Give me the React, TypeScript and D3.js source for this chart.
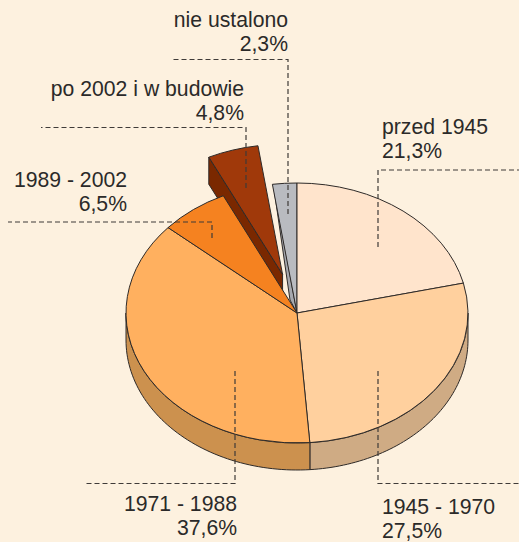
import React from "react";
import * as d3 from "d3";

const categories = ["przed 1945", "1945 - 1970", "1971 - 1988", "1989 - 2002", "po 2002 i w budowie", "nie ustalono"];
const shares = [21.3, 27.5, 37.6, 6.5, 4.8, 2.3];
const shareLabels = ["21,3%", "27,5%", "37,6%", "6,5%", "4,8%", "2,3%"];
const topColors = ["#FFE4CC", "#FFD09E", "#FFB05F", "#F58220", "#A0390A", "#B9BBC0"];
const sideColors = ["#CDB69F", "#CFAB84", "#CC914E", "#C4681A", "#7A2800", "#A6A8AE"];
const explode = [0, 0, 0, 0, 0.31, 0];

const W = 519, H = 542;
const BG = "#FDF1DF", INK = "#2B2A29", EDGE = "#2E2A28", DASH = "#3F3B38";
const cx = 297, cy = 313, rx = 171, ry = 130, depth = 27;

const labelLayout = [
  { x: 382, y: 134, anchor: "start", leader: [[378, 247], [378, 170], [519, 170]] },
  { x: 382, y: 514, anchor: "start", leader: [[378, 371], [378, 483.5], [519, 483.5]] },
  { x: 237, y: 511, anchor: "end", leader: [[235, 371], [235, 483.5], [86, 483.5]] },
  { x: 127, y: 187, anchor: "end", leader: [[212, 238], [212, 222], [8, 222]] },
  { x: 244, y: 96, anchor: "end", leader: [[246, 188], [246, 127.5], [41, 127.5]] },
  { x: 288, y: 27, anchor: "end", leader: [[288, 214], [288, 59.5], [172, 59.5]] },
];

const arcs = d3.pie<number>().sort(null).value((d) => d)(shares);
const px = (a: number) => cx + rx * Math.sin(a);
const py = (a: number) => cy - ry * Math.cos(a);
const unitArc = d3.arc<d3.PieArcDatum<number>>().innerRadius(0).outerRadius(1);
const line = d3.line();

function offset(i: number): [number, number] {
  const mid = (arcs[i].startAngle + arcs[i].endAngle) / 2;
  return [rx * explode[i] * Math.sin(mid) + 1, -ry * explode[i] * Math.cos(mid)];
}

// Curved outer wall of one slice, limited to the front half of the ellipse.
function frontWall(i: number) {
  const a0 = Math.max(arcs[i].startAngle, Math.PI / 2);
  const a1 = Math.min(arcs[i].endAngle, (3 * Math.PI) / 2);
  if (a1 <= a0) return null;
  const steps = d3.range(0, 61).map((k) => a0 + ((a1 - a0) * k) / 60);
  const top = steps.map((a) => [px(a), py(a)] as [number, number]);
  const bottom = steps.map((a) => [px(a), py(a) + depth] as [number, number]).reverse();
  return line([...top, ...bottom]) + "Z";
}

export default function App() {
  const font = { fontFamily: "'Liberation Sans', Arial, sans-serif", fontSize: 21.2 };
  const brown = 4, gray = 5;
  const [bx, by] = offset(brown);
  const bs = arcs[brown].startAngle;
  const grayCorner: [number, number] = [px(arcs[gray].startAngle) + 1, py(arcs[gray].startAngle)];

  const sliceEl = (i: number, dx = 0, dy = 0) => (
    <path
      key={i}
      d={unitArc(arcs[i]) ?? ""}
      transform={`translate(${cx + dx},${cy + dy}) scale(${rx},${ry})`}
      fill={topColors[i]}
      stroke={EDGE}
      strokeWidth={1}
      strokeLinejoin="round"
      style={{ vectorEffect: "non-scaling-stroke" }}
    />
  );

  return (
    <svg width={W} height={H} viewBox={`0 0 ${W} ${H}`} style={{ position: "absolute", left: 0, top: 0 }}>
      <rect width={W} height={H} fill={BG} />

      {/* outer walls */}
      {shares.map((_, i) => {
        const d = frontWall(i);
        return d ? <path key={i} d={d} fill={sideColors[i]} stroke={EDGE} strokeWidth={1} /> : null;
      })}

      {/* exploded slice: inner cut face */}
      <path
        d={
          line([
            [px(bs) + bx, py(bs) + by],
            [px(bs) + bx, py(bs) + by + depth],
            [cx + bx, cy + by + depth],
            [cx + bx, cy + by],
          ]) + "Z"
        }
        fill={sideColors[brown]}
        stroke={EDGE}
        strokeWidth={1}
      />
      {sliceEl(brown, bx, by)}

      {/* grey slice cut face */}
      <path
        d={line([grayCorner, [290, 300], [cx, cy]]) + "Z"}
        fill={sideColors[gray]}
        stroke={EDGE}
        strokeWidth={1}
      />

      {[gray, 0, 1, 2, 3].map((i) => sliceEl(i))}

      {/* leaders */}
      {labelLayout.map((l, i) => (
        <path
          key={i}
          d={line(l.leader as [number, number][]) ?? ""}
          fill="none"
          stroke={DASH}
          strokeWidth={1.2}
          strokeDasharray="5 3"
        />
      ))}

      {/* labels */}
      {categories.map((c, i) => (
        <text key={c} x={labelLayout[i].x} y={labelLayout[i].y} textAnchor={labelLayout[i].anchor as "start" | "end"} fill={INK} {...font}>
          <tspan x={labelLayout[i].x}>{c}</tspan>
          <tspan x={labelLayout[i].x} dy={24}>{shareLabels[i]}</tspan>
        </text>
      ))}
    </svg>
  );
}
